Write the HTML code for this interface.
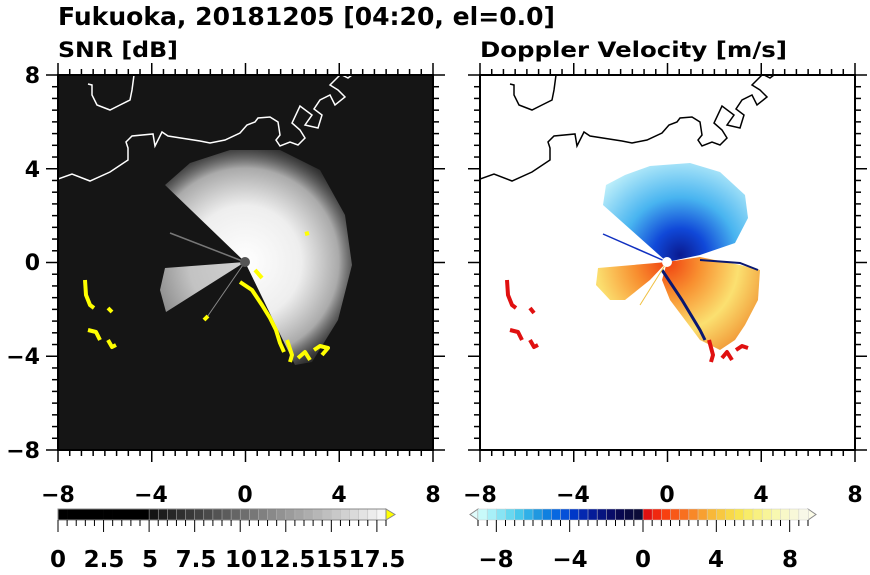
<!DOCTYPE html>
<html><head><meta charset="utf-8"><style>
body{margin:0;background:#fff;}
svg text{font-family:"DejaVu Sans","Liberation Sans",sans-serif;font-weight:bold;fill:#000}
</style></head><body>
<svg id="s" width="870" height="570" viewBox="0 0 870 570" xmlns="http://www.w3.org/2000/svg">
<defs>
<radialGradient id="wg" cx="245" cy="262" r="125" gradientUnits="userSpaceOnUse">
<stop offset="0" stop-color="#fff"/><stop offset="0.45" stop-color="#eee"/><stop offset="0.75" stop-color="#aaa"/><stop offset="1" stop-color="#333" stop-opacity="0.3"/>
</radialGradient>
<radialGradient id="bg" cx="680" cy="255" r="105" gradientUnits="userSpaceOnUse">
<stop offset="0" stop-color="#0a1a90"/><stop offset="0.25" stop-color="#1048d8"/><stop offset="0.55" stop-color="#48b4f0"/><stop offset="1" stop-color="#c8f4fb"/>
</radialGradient>
<radialGradient id="rg" cx="667" cy="262" r="110" gradientUnits="userSpaceOnUse">
<stop offset="0" stop-color="#f04010"/><stop offset="0.3" stop-color="#f89030"/><stop offset="0.65" stop-color="#fbe070"/><stop offset="1" stop-color="#f09030"/>
</radialGradient>
<clipPath id="cl"><rect x="58" y="75" width="375" height="375"/></clipPath>
<clipPath id="cr"><rect x="480" y="75" width="375" height="375"/></clipPath>
</defs>
<text x="58" y="25" font-size="25" textLength="497" lengthAdjust="spacingAndGlyphs">Fukuoka, 20181205 [04:20, el=0.0]</text>
<text x="58" y="57" font-size="21" textLength="120" lengthAdjust="spacingAndGlyphs">SNR [dB]</text>
<text x="480" y="57" font-size="21" textLength="307" lengthAdjust="spacingAndGlyphs">Doppler Velocity [m/s]</text>
<rect x="58" y="75" width="375" height="375" fill="#151515"/>
<g clip-path="url(#cl)">
<path d="M245,262 L165,185 L190,163 L230,150 L280,150 L320,170 L345,215 L352,265 L338,320 L312,362 L295,365 Z" fill="url(#wg)"/>
<path d="M245,262 L165,268 L160,290 L166,312 Z" fill="url(#wg)" opacity="0.8"/>
<line x1="245" y1="262" x2="170" y2="233" stroke="#777" stroke-width="1.5"/>
<line x1="245" y1="262" x2="205" y2="320" stroke="#888" stroke-width="1"/>
<circle cx="245" cy="262" r="5" fill="#555"/>
<g fill="none" stroke="#ff0" stroke-width="4" stroke-linejoin="round">
<path d="M240,282 L252,290 L262,305 L270,318 L276,330 L280,343 L284,352"/>
<path d="M255,270 L262,278"/>
<path d="M287,340 L292,355 L290,362"/>
<path d="M298,358 L305,352 L310,360"/>
<path d="M314,350 L320,346 L328,348 L322,355"/>
<path d="M85,280 L86,295 L90,305 L94,308"/>
<path d="M108,308 L112,312"/>
<path d="M88,330 L96,332 L100,340"/>
<path d="M108,340 L112,347 L116,345"/>
<path d="M208,316 L204,320"/>
<path d="M305,234 L309,233"/>
</g>
<g fill="none" stroke="#fff" stroke-width="1.5">
<path d="M58,179 L72,174 L90,181 L110,172 L128,160 L128,148 L126,142 L132,136 L153,134 L155,146 L162,132 L168,136 L200,141 L210,143 L225,140 L240,133 L247,125 L255,122 L258,118 L270,117 L278,122 L280,135 L276,140 L280,146 L290,142 L298,145 L305,138 L300,130 L292,123 L300,106 L312,115 L305,125 L318,128 L322,115 L314,109 L320,100 L330,95 L335,105 L345,97 L338,90 L330,85 L335,80 L340,75"/>
<path d="M342,75 L348,78 L352,75"/>
<path d="M88,84 L92,85 L92,95 L97,105 L110,110 L120,105 L130,100 L132,90 L134,75"/>
</g>
</g>
<rect x="58" y="75" width="375" height="375" fill="none" stroke="#000" stroke-width="2"/>
<g clip-path="url(#cr)">
<path d="M667,262 L603,205 L606,185 L625,175 L650,166 L690,163 L720,172 L745,195 L748,218 L735,243 L700,255 Z" fill="url(#bg)"/>
<path d="M667,262 L700,257 L740,265 L760,270 L758,300 L745,325 L735,340 L720,350 L700,340 L685,320 L670,300 L662,280 Z" fill="url(#rg)"/>
<path d="M667,262 L598,268 L596,285 L610,300 L625,300 L650,280 Z" fill="url(#rg)"/>
<path d="M662,270 L682,300 L700,330 L705,340" fill="none" stroke="#0a1870" stroke-width="3"/>
<path d="M700,260 L740,263 L758,270" fill="none" stroke="#0a1870" stroke-width="2"/>
<line x1="667" y1="262" x2="603" y2="234" stroke="#1030c0" stroke-width="1.5"/>
<line x1="667" y1="262" x2="640" y2="305" stroke="#f0c040" stroke-width="1"/>
<circle cx="667" cy="262" r="5" fill="#fff"/>
<g fill="none" stroke="#e01010" stroke-width="4" stroke-linejoin="round">
<path d="M507,280 L508,295 L512,305 L516,308"/>
<path d="M530,308 L534,313"/>
<path d="M510,330 L518,332 L522,340"/>
<path d="M530,340 L534,347 L538,345"/>
<path d="M709,340 L713,355 L711,362"/>
<path d="M722,358 L727,352 L732,360"/>
<path d="M736,350 L742,346 L748,348"/>
</g>
<g fill="none" stroke="#000" stroke-width="1.5">
<path d="M480,179 L494,174 L512,181 L532,172 L550,160 L550,148 L548,142 L554,136 L575,134 L577,146 L584,132 L590,136 L622,141 L632,143 L647,140 L662,133 L669,125 L677,122 L680,118 L692,117 L700,122 L702,135 L698,140 L702,146 L712,142 L720,145 L727,138 L722,130 L714,123 L722,106 L734,115 L727,125 L740,128 L744,115 L736,109 L742,100 L752,95 L757,105 L767,97 L760,90 L752,85 L757,80 L762,75"/>
<path d="M764,75 L770,78 L774,75"/>
<path d="M510,84 L514,85 L514,95 L519,105 L532,110 L542,105 L552,100 L554,90 L556,75"/>
</g>
</g>
<rect x="480" y="75" width="375" height="375" fill="none" stroke="#000" stroke-width="2"/>
<g id="ticks" stroke="#000" stroke-width="1.5"></g>
<g id="cb"></g>
<g font-size="22" text-anchor="middle">
<text x="58" y="502">−8</text><text x="151" y="502">−4</text><text x="245" y="502">0</text><text x="339" y="502">4</text><text x="433" y="502">8</text>
<text x="480" y="502">−8</text><text x="573" y="502">−4</text><text x="667" y="502">0</text><text x="761" y="502">4</text><text x="855" y="502">8</text>
</g>
<g font-size="22" text-anchor="end">
<text x="40" y="83">8</text><text x="40" y="177">4</text><text x="40" y="270">0</text><text x="40" y="364">−4</text><text x="40" y="458">−8</text>
</g>
<g font-size="23" text-anchor="middle">
<text x="58" y="567">0</text><text x="104" y="567">2.5</text><text x="150" y="567">5</text><text x="196" y="567">7.5</text><text x="241" y="567">10</text><text x="287" y="567">12.5</text><text x="332" y="567">15</text><text x="377" y="567">17.5</text>
<text x="496" y="567">−8</text><text x="570" y="567">−4</text><text x="643" y="567">0</text><text x="716" y="567">4</text><text x="790" y="567">8</text>
</g>
</svg>
<script>
var NS="http://www.w3.org/2000/svg";
function el(p,t,a){var e=document.createElementNS(NS,t);for(var k in a)e.setAttribute(k,a[k]);p.appendChild(e);return e;}
var T=document.getElementById('ticks');
[58,480].forEach(function(x0){
 for(var i=0;i<=32;i++){var v=x0+i*375/32;var L=(i%8==0)?12:6;
  el(T,'line',{x1:v,y1:450,x2:v,y2:450+L});el(T,'line',{x1:v,y1:75,x2:v,y2:75-L});
  var y=75+i*375/32;el(T,'line',{x1:x0,y1:y,x2:x0-L,y2:y});el(T,'line',{x1:x0+375,y1:y,x2:x0+375+L,y2:y});}
});
var C=document.getElementById('cb');
var n=36,w=(386-58)/n;
for(var i=0;i<n;i++){var g=i<10?0:Math.round(20+(i-10)*225/25);
 el(C,'rect',{x:58+i*w,y:509,width:w+0.3,height:11,fill:'rgb('+g+','+g+','+g+')',stroke:i<10?'none':'#bbb','stroke-width':0.5});}
el(C,'path',{d:'M386,509 L395,514.5 L386,520 Z',fill:'#ff0',stroke:'#888'});
el(C,'rect',{x:58,y:509,width:328,height:11,fill:'none',stroke:'#888'});
for(var i=0;i<=n;i++){var x=58+i*w;el(C,'line',{x1:x,y1:520,x2:x,y2:520+(i%5==0?12:6),stroke:'#000','stroke-width':1});}
var cols=['#c8fafa','#a8f0f8','#88e4f4','#68d8f0','#48c8ec','#30b0e8','#2098e0','#1080e0','#0868e0','#0450d8','#0038c8','#0428b0','#041c98','#061480','#080c68','#080850','#0a0a40','#0c0c38',
'#e01010','#f02810','#f84010','#f85818','#f87020','#f88828','#f8a030','#f8b838','#f8c840','#f8d848','#f8e450','#f8ec68','#f8f080','#f8f498','#f8f8b0','#f8f8c8','#f8f8d8','#f8f8e8'];
var x0=478,w2=(808-478)/36;
el(C,'path',{d:'M478,509 L470,514.5 L478,520 Z',fill:'#e0fcfc',stroke:'#888'});
el(C,'path',{d:'M808,509 L816,514.5 L808,520 Z',fill:'#fcfce8',stroke:'#888'});
for(var i=0;i<36;i++){el(C,'rect',{x:x0+i*w2,y:509,width:w2+0.3,height:11,fill:cols[i],stroke:'#ccc','stroke-width':0.5});}
for(var i=0;i<=36;i++){var x=x0+i*w2;el(C,'line',{x1:x,y1:520,x2:x,y2:520+((i-18)%8==0?12:6),stroke:'#000','stroke-width':1});}
</script>
</body></html>
